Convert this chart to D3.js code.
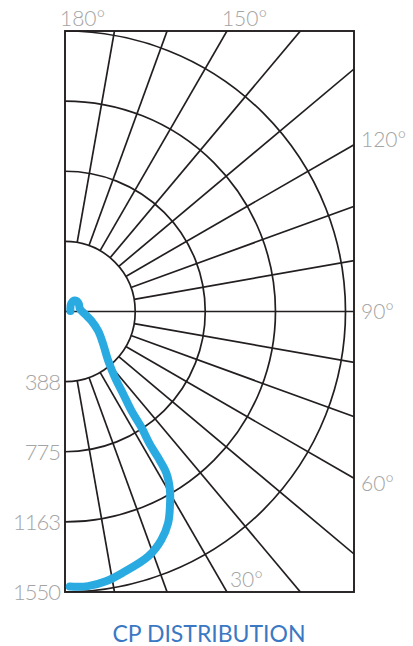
<!DOCTYPE html>
<html>
<head>
<meta charset="utf-8">
<script src="https://cdn.jsdelivr.net/npm/d3@7"></script>
<style>
  body { margin: 0; background: #fff; }
  svg text { font-family: Lato, "Open Sans", sans-serif; font-weight: 300; }
</style>
</head>
<body>
<div id="chart"></div>
<script>
// Candela rings and angle labels
const ringValues = [388, 775, 1163, 1550];
const angleLabels = [180, 150, 120, 90, 60, 30];
const spokeAngles = d3.range(10, 180, 10);

// CP curve, degrees from nadir / candela
const curveAngles = [95, 141, 139, 122, 99.5, 80.5, 70.4, 59.6, 49.4, 41.2, 37.1, 35.2, 33.8, 33.4, 32.6, 32.5, 32.1, 30.5, 28.3, 26.0, 22.9, 18.8, 12.5, 8.6, 4.8, 1.0];
const curveValues = [30, 53, 80, 88, 84, 117, 156, 213, 278, 363, 458, 559, 661, 768, 870, 954, 1054, 1142, 1223, 1300, 1369, 1429, 1478, 1508, 1523, 1520];

const width = 413, height = 646;
const box = { left: 65, top: 31, right: 354, bottom: 592 };
const cx = box.left, cy = (box.top + box.bottom) / 2;

const svg = d3.select('#chart').append('svg')
  .attr('width', width)
  .attr('height', height);

const r = d3.scaleLinear()
  .domain([0, 1550])
  .range([0, cy - box.top]);

// angle from nadir -> radial angle for d3 (0 = up, clockwise)
const toRad = deg => Math.PI - deg * Math.PI / 180;

svg.append('clipPath').attr('id', 'clip')
  .append('rect')
    .attr('x', box.left).attr('y', box.top)
    .attr('width', box.right - box.left)
    .attr('height', box.bottom - box.top);

const g = svg.append('g').attr('clip-path', 'url(#clip)');
const gridColor = '#231f20';

// Rings
g.selectAll('.ring')
  .data(ringValues)
  .enter().append('circle')
    .attr('cx', cx).attr('cy', cy)
    .attr('r', d => r(d))
    .attr('fill', 'none')
    .attr('stroke', gridColor)
    .attr('stroke-width', 1.7);

// Spokes, start at the inner ring (90 deg from centre)
g.selectAll('.spoke')
  .data(spokeAngles)
  .enter().append('line')
    .attr('x1', d => cx + (d === 90 ? 0 : r(ringValues[0])) * Math.sin(d * Math.PI / 180))
    .attr('y1', d => cy + (d === 90 ? 0 : r(ringValues[0])) * Math.cos(d * Math.PI / 180))
    .attr('x2', d => cx + 800 * Math.sin(d * Math.PI / 180))
    .attr('y2', d => cy + 800 * Math.cos(d * Math.PI / 180))
    .attr('stroke', gridColor)
    .attr('stroke-width', 1.7);

// Frame
svg.append('rect')
  .attr('x', box.left).attr('y', box.top)
  .attr('width', box.right - box.left)
  .attr('height', box.bottom - box.top)
  .attr('fill', 'none')
  .attr('stroke', gridColor)
  .attr('stroke-width', 1.9);

// Curve
const line = d3.lineRadial()
  .angle(d => toRad(d[0]))
  .radius(d => r(d[1]))
  .curve(d3.curveCatmullRom.alpha(0.5));

svg.append('path')
  .datum(d3.zip(curveAngles, curveValues))
  .attr('transform', `translate(${cx},${cy})`)
  .attr('d', line)
  .attr('fill', 'none')
  .attr('stroke', '#29abe2')
  .attr('stroke-width', 8)
  .attr('stroke-linecap', 'round')
  .attr('stroke-linejoin', 'round');

// Ring labels on the left
svg.selectAll('.rlabel')
  .data(ringValues)
  .enter().append('text')
    .attr('x', box.left - 5)
    .attr('y', d => cy + r(d))
    .attr('dy', '0.36em')
    .attr('text-anchor', 'end')
    .attr('fill', '#a4a4a4')
    .attr('font-size', 22)
    .attr('letter-spacing', -1)
    .text(d => d);

// Angle labels where each spoke meets the frame
const hit = deg => {
  const a = deg * Math.PI / 180, sx = Math.sin(a), sy = Math.cos(a);
  const tx = sx > 1e-6 ? (box.right - cx) / sx : Infinity;
  const ty = sy < -1e-6 ? (box.top - cy) / sy : sy > 1e-6 ? (box.bottom - cy) / sy : Infinity;
  const t = Math.min(tx, ty);
  return { x: cx + t * sx, y: cy + t * sy, side: tx < ty ? 'right' : (sy < 0 ? 'top' : 'bottom') };
};

svg.selectAll('.alabel')
  .data(angleLabels)
  .enter().append('text')
    .each(function(d) {
      const h = hit(d);
      const t = d3.select(this);
      if (h.side === 'top') {
        t.attr('x', h.x - 5).attr('y', box.top - 5);
      } else if (h.side === 'right') {
        t.attr('x', box.right + 7).attr('y', cy + (h.y - cy) * 1.03).attr('dy', '0.36em');
      } else {
        t.attr('x', h.x + 3).attr('y', box.bottom - 5);
      }
    })
    .attr('fill', '#a4a4a4')
    .attr('font-size', 21)
    .text(d => d + '°');

// Title
svg.append('text')
  .attr('x', 209)
  .attr('y', 642)
  .attr('text-anchor', 'middle')
  .attr('fill', '#3a78c3')
  .attr('font-size', 23)
  .style('font-weight', 400)
  .text('CP DISTRIBUTION');
</script>
</body>
</html>
